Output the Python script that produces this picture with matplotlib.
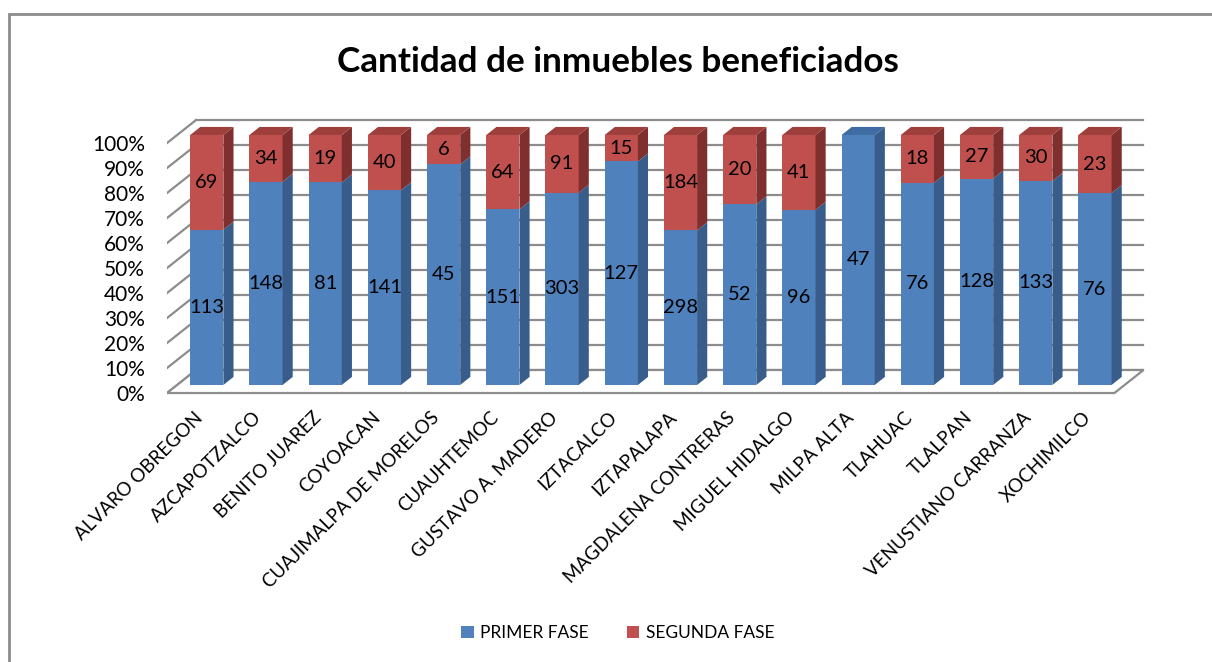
import numpy as np
import matplotlib.pyplot as plt
from matplotlib.patches import Polygon, Rectangle, Patch

plt.rcParams['font.family'] = ['Lato', 'DejaVu Sans']

municipios = ["ALVARO OBREGON", "AZCAPOTZALCO", "BENITO JUAREZ", "COYOACAN",
              "CUAJIMALPA DE MORELOS", "CUAUHTEMOC", "GUSTAVO A. MADERO", "IZTACALCO",
              "IZTAPALAPA", "MAGDALENA CONTRERAS", "MIGUEL HIDALGO", "MILPA ALTA",
              "TLAHUAC", "TLALPAN", "VENUSTIANO CARRANZA", "XOCHIMILCO"]
primer_fase = [113, 148, 81, 141, 45, 151, 303, 127, 298, 52, 96, 47, 76, 128, 133, 76]
segunda_fase = [69, 34, 19, 40, 6, 64, 91, 15, 184, 20, 41, 0, 18, 27, 30, 23]
y_ticks = list(range(0, 101, 10))

# colores estilo Excel
azul = ("#4F81BD", "#385D8A", "#3F6DA3")
rojo = ("#C0504D", "#7F302E", "#9E3F3C")
gris = "#8C8C8C"

primer = np.array(primer_fase, dtype=float)
segunda = np.array(segunda_fase, dtype=float)
total = primer + segunda
p1 = 100 * primer / total
x = np.arange(len(municipios))

fig = plt.figure(figsize=(12.12, 6.62), dpi=100)
ax = fig.add_axes([0.1378, 0.395, 0.8086, 0.4267])
ax.set_xlim(-0.5, 16.05)
ax.set_ylim(-3, 110)

# profundidad del efecto 3D
DX, DY = 0.49, 9.2
f0, f1 = 0.35, 0.70
W = 0.56
n = len(municipios)

# paredes y piso
for v in y_ticks:
    ax.plot([-0.5, -0.5 + DX], [v, v + DY], color=gris, lw=1.6, zorder=1)
    ax.plot([-0.5 + DX, n - 0.5 + DX], [v + DY, v + DY], color=gris, lw=1.6, zorder=1)
piso = [(-0.5, 0), (n - 0.5, 0), (n - 0.5 + DX, DY), (-0.5 + DX, DY)]
ax.add_patch(Polygon(piso, closed=True, facecolor="white", edgecolor=gris, lw=1.6, zorder=2))

ox, oy = f0 * DX, f0 * DY
sx, sy = (f1 - f0) * DX, (f1 - f0) * DY

for i in range(n):
    x0 = x[i] - W / 2 + ox
    segmentos = [(0, p1[i], azul, primer_fase[i]), (p1[i], 100, rojo, segunda_fase[i])]
    for b, t, col, val in segmentos:
        if t - b <= 0:
            continue
        frente = [(x0, b + oy), (x0 + W, b + oy), (x0 + W, t + oy), (x0, t + oy)]
        lado = [(x0 + W, b + oy), (x0 + W + sx, b + oy + sy),
                (x0 + W + sx, t + oy + sy), (x0 + W, t + oy)]
        ax.add_patch(Polygon(frente, closed=True, facecolor=col[0], edgecolor="none", zorder=3))
        ax.add_patch(Polygon(lado, closed=True, facecolor=col[1], edgecolor="none", zorder=3))
        if t >= 100:
            tapa = [(x0, t + oy), (x0 + W, t + oy), (x0 + W + sx, t + oy + sy), (x0 + sx, t + oy + sy)]
            ax.add_patch(Polygon(tapa, closed=True, facecolor=col[2], edgecolor="none", zorder=3))
        if val > 0:
            ax.text(x[i] + ox, (b + t) / 2 + oy, str(val), ha="center", va="center",
                    fontsize=14.5, color="black", zorder=4)

ax.set_yticks(y_ticks, [f"{v}%" for v in y_ticks], fontsize=15)
ax.set_xticks(x + ox - 0.22, municipios, rotation=45, ha="right", rotation_mode="anchor",
              fontsize=13.5)
ax.tick_params(axis="y", length=0, pad=16)
ax.tick_params(axis="x", length=0, pad=6)
for s in ax.spines.values():
    s.set_visible(False)

fig.text(0.51, 1 - 62 / 662, "Cantidad de inmuebles beneficiados", ha="center", va="center",
         fontsize=25.3, fontweight="bold")

handles = [Patch(facecolor=azul[0], label="PRIMER FASE"), Patch(facecolor=rojo[0], label="SEGUNDA FASE")]
fig.legend(handles=handles, loc="center", bbox_to_anchor=(0.51, 1 - 633 / 662), ncol=2,
           frameon=False, fontsize=12.5, handlelength=0.7, handleheight=0.7,
           handletextpad=0.4, columnspacing=2.2)

# borde del área del gráfico
fig.add_artist(Rectangle((9 / 1212, -0.1), 1.2, 1 - 14 / 662 + 0.1, transform=fig.transFigure,
                         fill=False, edgecolor="#8C8C8C", lw=2))

fig.savefig("out.png", dpi=100)
